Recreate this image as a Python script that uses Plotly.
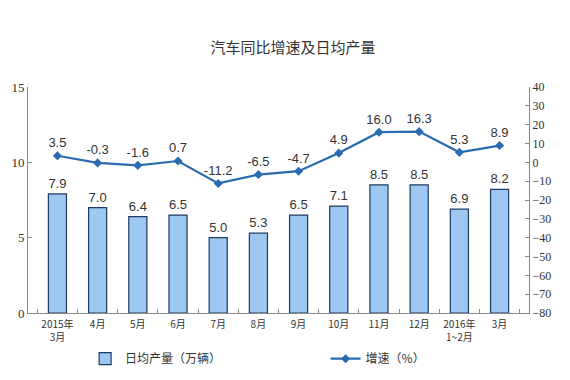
import plotly.graph_objects as go

categories = ["2015年<br>3月", "4月", "5月", "6月", "7月", "8月", "9月", "10月", "11月", "12月", "2016年<br>1~2月", "3月"]
daily_output = [7.9, 7.0, 6.4, 6.5, 5.0, 5.3, 6.5, 7.1, 8.5, 8.5, 6.9, 8.2]
growth = [3.5, -0.3, -1.6, 0.7, -11.2, -6.5, -4.7, 4.9, 16.0, 16.3, 5.3, 8.9]

cjk = "Noto Sans CJK SC, Liberation Sans, sans-serif"
serif = "Liberation Serif, DejaVu Serif, serif"

fig = go.Figure()
fig.add_trace(go.Bar(
    x=categories, y=daily_output, name="日均产量（万辆）",
    marker=dict(color="#9dc8f2", line=dict(color="#1f3a5f", width=1.2)),
    text=[f"{v:.1f}" for v in daily_output], textposition="outside",
    textfont=dict(family="Liberation Sans, Arial", size=13, color="#333333"),
    cliponaxis=False, legend="legend",
))
fig.add_trace(go.Scatter(
    x=categories, y=growth, name="增速（%）", yaxis="y2",
    mode="lines+markers+text",
    line=dict(color="#2a6bb0", width=2.2),
    marker=dict(symbol="diamond", size=7, color="#2a6bb0"),
    text=[f"{v:.1f}" for v in growth], textposition="top center",
    textfont=dict(family="Liberation Sans, Arial", size=13, color="#333333"),
    cliponaxis=False, legend="legend2",
))

legend_common = dict(orientation="h", yanchor="top", font=dict(family=cjk, size=12, color="#333333"),
                     bgcolor="rgba(0,0,0,0)")

fig.update_layout(
    width=570, height=380,
    margin=dict(l=20, r=49, t=79, b=75, autoexpand=False),
    paper_bgcolor="white", plot_bgcolor="white",
    title=dict(text="汽车同比增速及日均产量", x=0.5, xanchor="center", y=0.895, yanchor="middle",
               font=dict(family=cjk, size=15, color="#333333")),
    bargap=0.55,
    showlegend=True,
    legend=dict(x=0.114, xanchor="left", y=-0.138, **legend_common),
    legend2=dict(x=0.594, xanchor="left", y=-0.138, **legend_common),
    xaxis=dict(type="category", showline=True, linecolor="#888888", linewidth=1,
               ticks="inside", ticklen=4, tickcolor="#888888", tickson="boundaries",
               tickangle=0, ticklabelstandoff=2,
               tickfont=dict(family=cjk, size=10, color="#333333"), showgrid=False),
    yaxis=dict(range=[0, 15], dtick=5, showline=True, linecolor="#888888", linewidth=1,
               ticks="inside", ticklen=4, tickcolor="#888888", showgrid=False, zeroline=False,
               tickfont=dict(family=serif, size=13, color="#333333")),
    yaxis2=dict(range=[-80, 40], dtick=10, overlaying="y", side="right", showline=True,
                linecolor="#888888", linewidth=1, ticks="inside", ticklen=4, tickcolor="#888888",
                showgrid=False, zeroline=False,
                tickfont=dict(family=serif, size=12, color="#333333")),
)

fig.write_html("out.html")
